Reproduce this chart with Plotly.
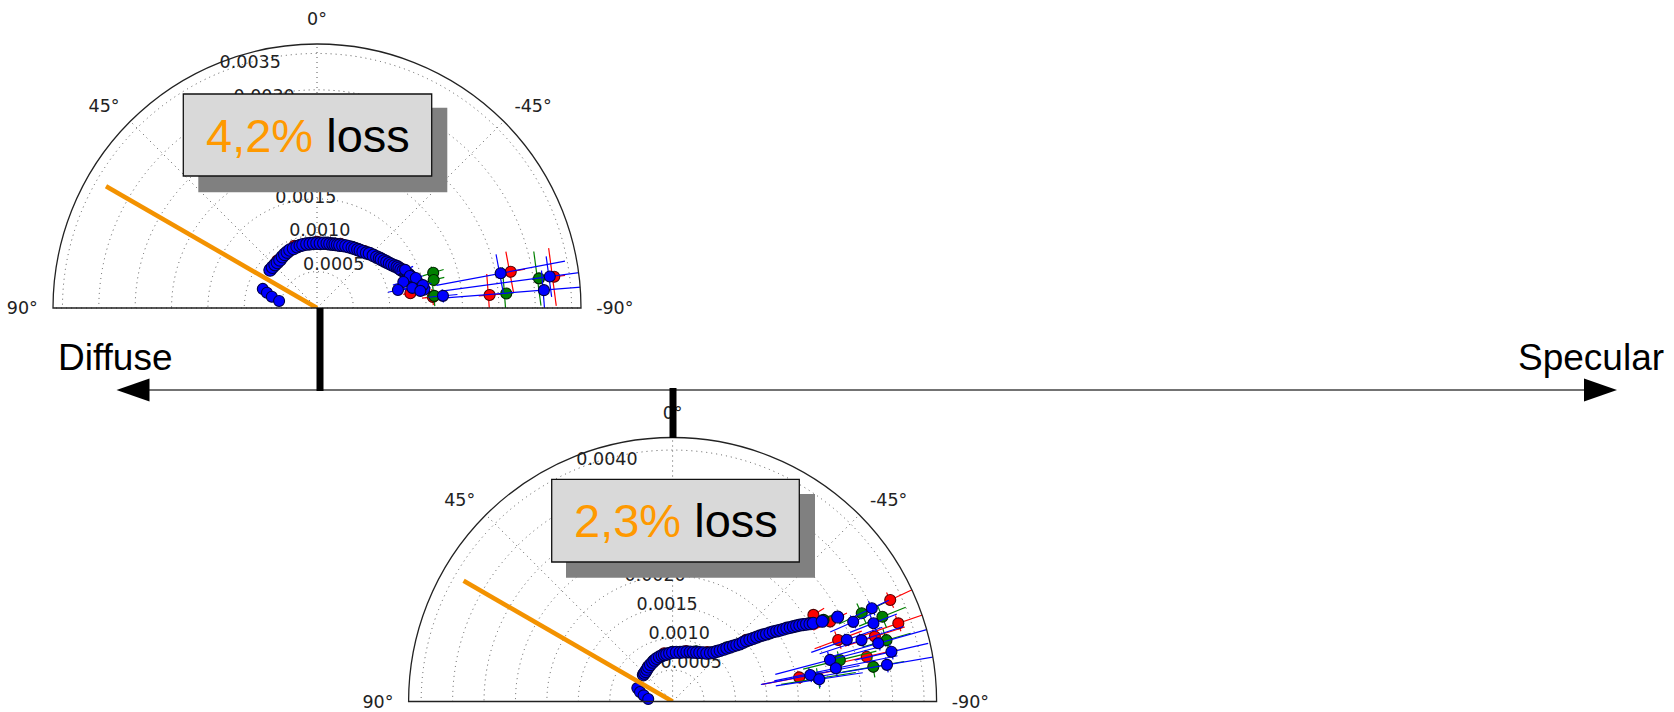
import plotly.graph_objects as go

W, H = 1674, 712


def px(x):
    return x / W


def py(y):
    return 1 - y / H


# ---------------- data ----------------
angle_ticks = [-90, -45, 0, 45, 90]
angle_labels = ["-90°", "-45°", "0°", "45°", "90°"]
rlabel_angle = 22.5

top_rmax = 0.00363
bot_rmax = 0.0042
top_rticks = [0.0005, 0.0010, 0.0015, 0.0020, 0.0025, 0.0030, 0.0035]
bot_rticks = [0.0005, 0.0010, 0.0015, 0.0020, 0.0025, 0.0030, 0.0035, 0.0040]

top_loss = "4,2%"
bot_loss = "2,3%"
orange_theta = 60
top_orange_r = 0.00335
bot_orange_r = 0.00384

# top chart (4,2% loss): dense blue arc
top_arc_theta = [51, 47.5, 44, 41, 37.6, 34, 31, 28, 25, 21.5, 18, 15, 12.5, 9, 6, 3, 0, -3, -6,
                 -9, -11.4, -14, -16, -18, -20, -22.5, -25, -27.5, -30.3, -32.5, -35, -37,
                 -39.4, -42, -44, -47, -49.6, -51.5, -53, -55, -56.7, -58.5, -60, -61.5, -62.9,
                 -64.2,
                 -65.5, -66.7, -67.8, -69, -70, -71.2, -72.5, -73.5, -74.5, -75.5, -76.6, -77.5,
                 -78.5, -79.9]
top_arc_r = [0.00083, 0.00083, 0.00083, 0.00083, 0.000835, 0.00085, 0.00086, 0.00087, 0.00088,
             0.00088, 0.000885, 0.00089, 0.00089, 0.00089, 0.00089, 0.00089, 0.00089, 0.00089,
             0.000895, 0.0009, 0.0009, 0.000905, 0.00091, 0.000915, 0.00092, 0.00093, 0.00094,
             0.00095, 0.00096, 0.00097, 0.00098, 0.00099,
             0.00100, 0.00102, 0.00104, 0.00106, 0.00108, 0.00110, 0.00111, 0.00113, 0.00115,
             0.00117, 0.00119, 0.001215, 0.00124, 0.001255,
             0.00127, 0.00129, 0.00131, 0.001325, 0.00134, 0.001355, 0.00137, 0.001385, 0.0014,
             0.001415, 0.00143, 0.001445, 0.00146, 0.00149]
top_arc_rerr = [0.00003] * 32 + [0.00006] * 14 + [0.0001] * 14
top_arc_terr = [1.5] * 32 + [2.5] * 14 + [3] * 14

# top chart: other blue points (blob near the orange line, cluster, far points)
top_blue_theta = [70.6, 73, 76, 79.6,
                  -66.6, -71, -73.2, -73.1, -77.8, -78.1, -80.6, -77.5,
                  -84.5, -79.3, -82.3, -85.5]
top_blue_r = [0.00079, 0.00072, 0.00064, 0.00053,
              0.00132, 0.00135, 0.00124, 0.00142, 0.00149, 0.00134, 0.00144, 0.00114,
              0.00174, 0.00257, 0.00323, 0.00313]
top_blue_rerr = [0.00003, 0.00003, 0.00003, 0.00003,
                 0.00012, 0.0001, 0.00015, 0.0001, 0.00012, 0.00015, 0.0001, 0.00014,
                 0.0002, 0.0009, 0.0015, 0.0014]
top_blue_terr = [1.5, 1.5, 1.5, 1.5, 3, 3, 3, 3, 3, 3, 3, 3, 3, 6, 5, 5]

top_red_theta = [40, 20, 0, -20, -40, -55, -65, -81, -84.6, -79.4, -85.7, -82.5]
top_red_r = [0.00085, 0.00091, 0.00091, 0.00094, 0.00102, 0.00114, 0.00128,
             0.0013, 0.0016, 0.00271, 0.00238, 0.00329]
top_red_rerr = [0.00003] * 7 + [0.0001, 0.00015, 0.0002, 0.00015, 0.00015]
top_red_terr = [2] * 7 + [3, 4, 6, 7, 7]

top_green_theta = [30, 10, -10, -30, -50, -62, -73.1, -76.5, -84.1, -85.6, -82.4]
top_green_r = [0.00087, 0.0009, 0.00091, 0.00097, 0.00109, 0.00123,
               0.00167, 0.00165, 0.00162, 0.00261, 0.00308]
top_green_rerr = [0.00003] * 6 + [0.00015, 0.00015, 0.0001, 0.0001, 0.0001]
top_green_terr = [2] * 6 + [3, 3, 5, 8, 7]

# bottom chart (2,3% loss): dense blue arc
bot_arc_theta = [47.7, 45, 42, 38.5, 34.9, 31, 27, 23.5, 20.2, 16.5, 13, 10, 7.1, 3.5, 0, -4.3,
                 -8.6, -12.3, -16, -19.5, -22.8, -26, -29, -32, -35.3, -37.8, -40,
                 -41.5, -43, -44.3, -45.5, -46.6, -47.6, -48.6, -49.5, -50, -50.6, -51.3, -52,
                 -52.6, -53.1, -53.7, -54.3, -54.8, -55.3, -55.9, -56.4, -56.9, -57.3, -57.8,
                 -58.2, -58.6, -59, -59.5, -60, -60.5, -60.9, -61.8, -62.9]
bot_arc_r = [0.00063, 0.000635, 0.00064, 0.000655, 0.00067, 0.000685, 0.0007, 0.000715, 0.00073,
             0.00074, 0.00075, 0.000755, 0.00076, 0.00077, 0.00078, 0.000785, 0.00079,
             0.000805, 0.00082, 0.000835, 0.00085, 0.00087, 0.00089, 0.000915, 0.00094,
             0.00098, 0.00102,
             0.001065, 0.00111, 0.00116, 0.00121, 0.00126, 0.00131, 0.00136, 0.00141, 0.001465,
             0.00152, 0.001575, 0.00163, 0.001685, 0.00174, 0.00179, 0.00184, 0.001895,
             0.00195, 0.002, 0.00205, 0.002105, 0.00216, 0.00221, 0.00226, 0.00231, 0.00236,
             0.00241, 0.00246, 0.00251, 0.00256, 0.0027, 0.00295]
bot_arc_rerr = [0.00003] * 27 + [0.00006] * 32
bot_arc_terr = [1.5] * 27 + [2] * 32

bot_blue_theta = [69.2, 73.8, 78, 84.2,
                  -64.9, -66.2, -68.7, -70.5, -72, -74.2, -77.2, -75.2, -78.5, -80.3, -79.1, -81.4]
bot_blue_r = [0.0006, 0.00054, 0.00047, 0.00039,
              0.0035, 0.00314, 0.00343, 0.00294, 0.00316, 0.0034, 0.00357, 0.00259, 0.00265,
              0.00346, 0.00223, 0.00236]
bot_blue_rerr = [0.00003, 0.00003, 0.00003, 0.00003,
                 0.0003, 0.0004, 0.0004, 0.0006, 0.0007, 0.0008, 0.0006, 0.0009, 0.0010,
                 0.0011, 0.0008, 0.0007]
bot_blue_terr = [1.5, 1.5, 1.5, 1.5, 2, 2, 2.5, 2, 2, 2, 2, 3, 3, 2, 3, 3]

bot_red_theta = [35, 10, -15, -35, -50, -58.4, -63.1, -65, -70.9, -69.6, -72.2, -77, -79.2]
bot_red_r = [0.00068, 0.00078, 0.00083, 0.00096, 0.00153, 0.00263, 0.00281,
             0.00382, 0.0038, 0.00281, 0.00338, 0.00317, 0.00205]
bot_red_rerr = [0.00003] * 5 + [0.0002, 0.0003, 0.0006, 0.0006, 0.0004, 0.0005, 0.0005, 0.0006]
bot_red_terr = [1.5] * 5 + [2, 2, 2, 2, 3, 2, 2, 3]

bot_green_theta = [25, 0, -25, -45, -61.6, -60.2, -65, -74, -76.1, -80.2, -81, -68]
bot_green_r = [0.00072, 0.00079, 0.00088, 0.00122, 0.00273, 0.0025,
               0.00332, 0.00354, 0.00274, 0.00324, 0.00235, 0.0036]
bot_green_rerr = [0.00003] * 4 + [0.0002, 0.0002, 0.0004, 0.0004, 0.0006, 0.0005, 0.0006, 0.0004]
bot_green_terr = [1.5] * 4 + [2, 2, 3, 3, 3, 3, 4, 3]

# ---------------- layout geometry (pixels) ----------------
R = 264
top_c = (317, 308)
bot_c = (672.6, 701.5)

RED, GREEN, BLUE = "#ff0000", "#008000", "#0000ff"
ORANGE = "#f39200"
TICK_FONT = dict(family="DejaVu Sans", size=17.5, color="#222")

fig = go.Figure()

# radial tick labels, placed along the 22.5 deg direction like matplotlib does
for sp, ticks in [("polar", top_rticks), ("polar2", bot_rticks)]:
    fig.add_trace(go.Scatterpolar(theta=[rlabel_angle] * len(ticks), r=ticks, mode="text",
                                  text=[f"{v:.4f}" for v in ticks], textposition="top right",
                                  textfont=TICK_FONT, subplot=sp, cliponaxis=False,
                                  hoverinfo="skip"))


def err_segments(th, r, rerr, terr):
    tt, rr = [], []
    for t, v, dr, dt in zip(th, r, rerr, terr):
        tt += [t, t, None, t - dt, t + dt, None]
        rr += [max(v - dr, 0), v + dr, None, v, v, None]
    return tt, rr


def add_series(subplot, th, r, rerr, terr, color, edge, size=11):
    et, er = err_segments(th, r, rerr, terr)
    fig.add_trace(go.Scatterpolar(theta=et, r=er, mode="lines", subplot=subplot,
                                  line=dict(color=color, width=1.2), hoverinfo="skip"))
    fig.add_trace(go.Scatterpolar(theta=th, r=r, mode="markers", subplot=subplot,
                                  marker=dict(color=color, size=size, line=dict(color=edge, width=1.1))))


for sp, series in [
    ("polar", [(top_red_theta, top_red_r, top_red_rerr, top_red_terr, RED, "#550000"),
               (top_green_theta, top_green_r, top_green_rerr, top_green_terr, GREEN, "#002200"),
               (top_arc_theta, top_arc_r, top_arc_rerr, top_arc_terr, BLUE, "#000045", 12.5),
               (top_blue_theta, top_blue_r, top_blue_rerr, top_blue_terr, BLUE, "#000045")]),
    ("polar2", [(bot_red_theta, bot_red_r, bot_red_rerr, bot_red_terr, RED, "#550000"),
                (bot_green_theta, bot_green_r, bot_green_rerr, bot_green_terr, GREEN, "#002200"),
                (bot_arc_theta, bot_arc_r, bot_arc_rerr, bot_arc_terr, BLUE, "#000045", 12),
                (bot_blue_theta, bot_blue_r, bot_blue_rerr, bot_blue_terr, BLUE, "#000045")]),
]:
    for s in series:
        add_series(sp, *s)

fig.add_trace(go.Scatterpolar(theta=[orange_theta, orange_theta], r=[0, top_orange_r], mode="lines",
                              subplot="polar", line=dict(color=ORANGE, width=4.5)))
fig.add_trace(go.Scatterpolar(theta=[orange_theta, orange_theta], r=[0, bot_orange_r], mode="lines",
                              subplot="polar2", line=dict(color=ORANGE, width=4.5)))


def polar_layout(c, rmax, rticks):
    cx, cy = c
    grid = dict(showgrid=True, gridcolor="#555", griddash="1px,4px", gridwidth=1.2)
    return dict(
        domain=dict(x=[px(cx - R), px(cx + R)], y=[py(cy), py(cy - R)]),
        sector=[0, 180],
        bgcolor="white",
        angularaxis=dict(rotation=90, direction="counterclockwise", tickmode="array",
                         tickvals=angle_ticks, ticktext=angle_labels,
                         showline=True, linecolor="#222", linewidth=1.3,
                         ticks="outside", ticklen=11, tickcolor="rgba(0,0,0,0)",
                         tickfont=TICK_FONT, **grid),
        radialaxis=dict(range=[0, rmax], tickmode="array", tickvals=rticks,
                        showticklabels=False, showline=False, ticks="", **grid),
    )


shapes = []
annotations = []


def rect(x0, y0, x1, y1, fill, line=None):
    shapes.append(dict(type="rect", xref="paper", yref="paper", layer="above",
                       x0=px(x0), x1=px(x1), y0=py(y1), y1=py(y0), fillcolor=fill,
                       line=dict(color=line or fill, width=1.3 if line else 0)))


def loss_box(box, shadow, label):
    rect(*shadow, "#808080")
    rect(*box, "#d9d9d9", "#111")
    annotations.append(dict(
        xref="paper", yref="paper", x=px((box[0] + box[2]) / 2), y=py((box[1] + box[3]) / 2),
        text=f"<span style='color:#ff9900'>{label}</span> loss", showarrow=False,
        font=dict(family="Liberation Sans, Arial, sans-serif", size=47, color="black"),
        xanchor="center", yanchor="middle"))


# axis arrow
AY = 390
shapes.append(dict(type="line", xref="paper", yref="paper", layer="above",
                   x0=px(148), x1=px(1585), y0=py(AY), y1=py(AY),
                   line=dict(color="#444", width=1.5)))
for tip, base in [(116.5, 149.5), (1617, 1584)]:
    shapes.append(dict(type="path", xref="paper", yref="paper", layer="above",
                       path=f"M {px(tip)},{py(AY)} L {px(base)},{py(AY - 11.5)} "
                            f"L {px(base)},{py(AY + 11.5)} Z",
                       fillcolor="black", line=dict(color="black", width=0)))

# vertical markers on the axis
shapes.append(dict(type="line", xref="paper", yref="paper", layer="above",
                   x0=px(320), x1=px(320), y0=py(308), y1=py(AY + 1),
                   line=dict(color="black", width=7)))
shapes.append(dict(type="line", xref="paper", yref="paper", layer="above",
                   x0=px(673), x1=px(673), y0=py(AY - 2), y1=py(438),
                   line=dict(color="black", width=7)))

loss_box((183.3, 94, 431.7, 176), (198.3, 107.7, 447.3, 192.3), top_loss)
loss_box((551.7, 479.3, 799.3, 562), (566, 494, 815, 577.7), bot_loss)

for txt, x in [("Diffuse", 115), ("Specular", 1591)]:
    annotations.append(dict(xref="paper", yref="paper", x=px(x), y=py(358), text=txt,
                            showarrow=False, xanchor="center", yanchor="middle",
                            font=dict(family="Liberation Sans, Arial, sans-serif", size=37,
                                      color="black")))

fig.update_layout(
    width=W, height=H,
    margin=dict(l=0, r=0, t=0, b=0),
    paper_bgcolor="white",
    plot_bgcolor="white",
    showlegend=False,
    polar=polar_layout(top_c, top_rmax, top_rticks),
    polar2=polar_layout(bot_c, bot_rmax, bot_rticks),
    shapes=shapes,
    annotations=annotations,
)

fig.write_html("out.html", config={"displayModeBar": False},
               post_script="document.body.style.margin='0px';")
